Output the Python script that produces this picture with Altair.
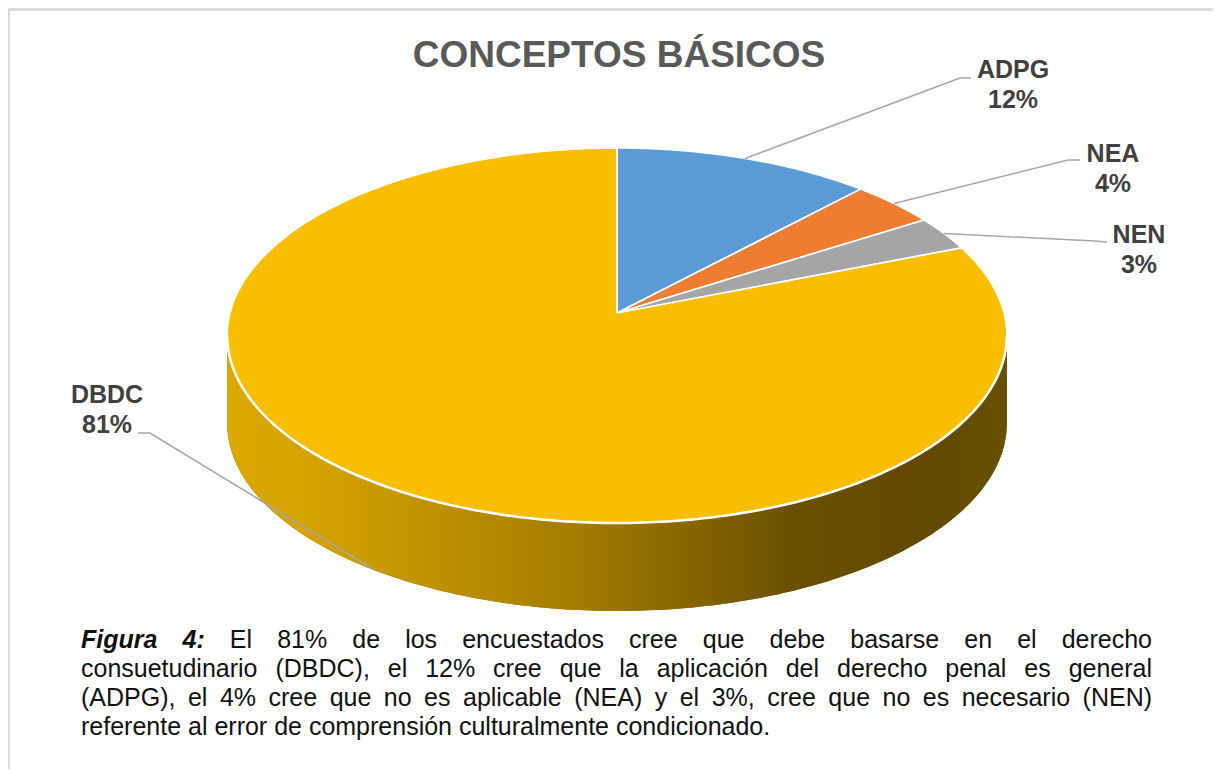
import math
import altair as alt
import pandas as pd

# ---------------- data ----------------
categories = ["ADPG", "NEA", "NEN", "DBDC"]
values = [12, 4, 3, 81]
colors = ["#5B9BD5", "#ED7D31", "#A5A5A5", "#FABD00"]

title_text = "CONCEPTOS BÁSICOS"
caption_bold = ["Figura", "4:"]
caption_lines = [
    "Figura 4: El 81% de los encuestados cree que debe basarse en el derecho",
    "consuetudinario (DBDC), el 12% cree que la aplicación del derecho penal es general",
    "(ADPG), el 4% cree que no es aplicable (NEA) y el 3%, cree que no es necesario (NEN)",
    "referente al error de comprensión culturalmente condicionado.",
]

# ---------------- layout ----------------
W, H = 1205, 761          # chart drawn from page (8, 8)
X0, Y0 = 8, 8
CX, CY = 617, 313         # projected pie centre (page px)
SX, SY = 387, 184.8       # perspective radii
E = 0.12                  # perspective factor
DEPTH = 88                # thickness of the 3D side
N = 120                   # arc resolution
M = 200                   # side resolution

xs = alt.Scale(domain=[X0, X0 + W], range=[0, W], nice=False, zero=False)
ys = alt.Scale(domain=[Y0, Y0 + H], range=[0, H], nice=False, zero=False)
X = lambda f: alt.X(f, type="quantitative", scale=xs, axis=None)
Y = lambda f: alt.Y(f, type="quantitative", scale=ys, axis=None)

col_scale = alt.Scale(domain=categories, range=colors)

slices = pd.DataFrame({"cat": categories, "value": values, "idx": list(range(len(categories)))})

U = "sin(datum.phi)/(1+%g*cos(datum.phi))" % E
V = "cos(datum.phi)/(1+%g*cos(datum.phi))" % E
A0 = math.acos(-E)  # silhouette angle of the projected rim

# ---------------- 3D side wall (front part of the DBDC slice) ----------------
side_base = (
    alt.Chart(slices)
    .transform_filter("datum.cat == 'DBDC'")
    .transform_calculate(pts="sequence(0, %d)" % (2 * M + 2))
    .transform_flatten(["pts"])
    .transform_calculate(
        j="datum.pts <= %d ? datum.pts : %d - datum.pts" % (M, 2 * M + 1),
        low="datum.pts > %d ? 1 : 0" % M,
    )
    .transform_calculate(phi="%.6f + %.6f*datum.j/%d" % (A0, 2 * math.pi - 2 * A0, M))
    .transform_calculate(
        px="%g + %g*(%s)" % (CX, SX, U),
        py="%g - %g*(%s) + datum.low*%g" % (CY, SY, V, DEPTH),
    )
)
side_under = side_base.mark_line(filled=True, fill="#A07A00", stroke=None).encode(
    x=X("px"), y=Y("py"), order=alt.Order("pts:Q")
)
side = side_base.mark_line(
    filled=True,
    stroke=None,
    fill=alt.Gradient(
        gradient="linear",
        stops=[
            alt.GradientStop(color="#DAA800", offset=0),
            alt.GradientStop(color="#D3A200", offset=0.12),
            alt.GradientStop(color="#A47C00", offset=0.45),
            alt.GradientStop(color="#6B5000", offset=0.72),
            alt.GradientStop(color="#624900", offset=0.9),
            alt.GradientStop(color="#665000", offset=1),
        ],
        x1=0, x2=1, y1=0, y2=0,
    ),
).encode(x=X("px"), y=Y("py"), order=alt.Order("pts:Q"))

rim = side_base.transform_filter("datum.low == 0").mark_line(color="white", strokeWidth=2.5).encode(
    x=X("px"), y=Y("py"), order=alt.Order("pts:Q")
)

# ---------------- top face slices ----------------
pie = (
    alt.Chart(slices)
    .transform_joinaggregate(total="sum(value)")
    .transform_window(cum="sum(value)", sort=[alt.SortField("idx")], frame=[None, 0])
    .transform_calculate(
        f0="(datum.cum - datum.value)/datum.total",
        f1="datum.cum/datum.total",
        pts="sequence(0, %d)" % (N + 3),
    )
    .transform_flatten(["pts"])
    .transform_calculate(
        phi="2*PI*(datum.f0 + (datum.f1-datum.f0)*clamp(datum.pts-1, 0, %d)/%d)" % (N, N),
        isv="datum.pts == 0 || datum.pts == %d" % (N + 2),
    )
    .transform_calculate(
        px="%g + (datum.isv ? 0 : %g*(%s))" % (CX, SX, U),
        py="%g - (datum.isv ? 0 : %g*(%s))" % (CY, SY, V),
    )
    .mark_line(filled=True, stroke="white", strokeWidth=1.6, strokeJoin="round")
    .encode(
        x=X("px"), y=Y("py"),
        color=alt.Color("cat:N", scale=col_scale, legend=None),
        order=alt.Order("pts:Q"),
        detail="cat:N",
    )
)

# ---------------- labels & leader lines ----------------
label_pos = {  # centre x, first-line baseline
    "ADPG": (1013, 78),
    "NEA": (1113, 162),
    "NEN": (1139, 243),
    "DBDC": (107, 403),
}
leader_tail = {
    "ADPG": [(960, 78), (971, 78)],
    "NEA": [(1068, 160), (1080, 160)],
    "NEN": [(1095, 241), (1107, 242)],
    "DBDC": [(150, 433), (138, 433)],
}

total = sum(values)
rows, lab_rows = [], []
cum = 0
for c, v in zip(categories, values):
    mid = (cum + v / 2) / total * 2 * math.pi
    cum += v
    d = 1 + E * math.cos(mid)
    ax = CX + SX * math.sin(mid) / d
    vv = math.cos(mid) / d
    ay = CY - SY * vv + (DEPTH if vv < -0.3 else 0)
    pts = [(ax, ay)] + leader_tail[c]
    for i, (px, py) in enumerate(pts):
        rows.append({"cat": c, "i": i, "px": px, "py": py})
    lx, ly = label_pos[c]
    lab_rows.append({"t": c, "px": lx, "py": ly})
    lab_rows.append({"t": "%d%%" % v, "px": lx, "py": ly + 30})
leaders_df = pd.DataFrame(rows)
labels_df = pd.DataFrame(lab_rows)

leaders = alt.Chart(leaders_df).mark_line(color="#A6A6A6", strokeWidth=1.5).encode(
    x=X("px"), y=Y("py"), detail="cat:N", order=alt.Order("i:Q")
)
labels = alt.Chart(labels_df).mark_text(
    font="Liberation Sans", fontSize=25, fontWeight="bold", color="#404040",
    align="center", baseline="alphabetic",
).encode(x=X("px"), y=Y("py"), text="t:N")

# ---------------- title ----------------
title = alt.Chart(pd.DataFrame({"t": [title_text], "px": [619], "py": [67]})).mark_text(
    font="Liberation Sans", fontSize=37, fontWeight="bold", color="#595959",
    align="center", baseline="alphabetic",
).encode(x=X("px"), y=Y("py"), text="t:N")

# ---------------- caption (justified) ----------------
AR = {" ": 278, "(": 333, ")": 333, ",": 278, ".": 278, ":": 278, "%": 889}
for ch in "0123456789":
    AR[ch] = 556
AR.update(dict(a=556, b=556, c=500, d=556, e=556, f=278, g=556, h=556, i=222, j=222, k=500,
               l=222, m=833, n=556, o=556, p=556, q=556, r=333, s=500, t=278, u=556, v=500,
               w=722, x=500, y=500, z=500))
AR.update({"á": 556, "é": 556, "í": 278, "ó": 556, "ú": 556, "ñ": 556, "A": 667, "B": 667,
           "C": 722, "D": 722, "E": 667, "F": 611, "G": 778, "N": 722, "P": 667, "S": 667})
BI = {"F": 611, "i": 278, "g": 611, "u": 611, "r": 389, "a": 556, "4": 556, ":": 333, " ": 278}

FS = 25
CAP_X0, CAP_X1 = 81, 1152
CAP_BASE, CAP_LH = 648, 29


def wwidth(word, bold):
    tab = BI if bold else AR
    return sum(tab.get(ch, 556) for ch in word) * FS / 1000.0


cap_rows = []
for li, line in enumerate(caption_lines):
    words = line.split(" ")
    bolds = [li == 0 and wi < len(caption_bold) and w == caption_bold[wi] for wi, w in enumerate(words)]
    widths = [wwidth(w, b) for w, b in zip(words, bolds)]
    if li < len(caption_lines) - 1:
        gap = (CAP_X1 - CAP_X0 - sum(widths)) / (len(words) - 1)
    else:
        gap = AR[" "] * FS / 1000.0
    x = CAP_X0
    for w, b, wd in zip(words, bolds, widths):
        cap_rows.append({"t": w, "px": x, "py": CAP_BASE + li * CAP_LH, "bold": b})
        x += wd + gap
cap_df = pd.DataFrame(cap_rows)

cap_regular = alt.Chart(cap_df).transform_filter("!datum.bold").mark_text(
    font="Liberation Sans", fontSize=FS, color="#111111", align="left", baseline="alphabetic",
).encode(x=X("px"), y=Y("py"), text="t:N")
cap_boldit = alt.Chart(cap_df).transform_filter("datum.bold").mark_text(
    font="Liberation Sans", fontSize=FS, fontWeight="bold", fontStyle="italic",
    color="#111111", align="left", baseline="alphabetic",
).encode(x=X("px"), y=Y("py"), text="t:N")

# ---------------- frame ----------------
frame_top = alt.Chart(pd.DataFrame({"a": [0]})).mark_rule(color="#D9D9D9", strokeWidth=2).encode(
    x=alt.value(0), x2=alt.value(W), y=alt.value(2)
)
frame_left = alt.Chart(pd.DataFrame({"a": [0]})).mark_rule(color="#D9D9D9", strokeWidth=2).encode(
    x=alt.value(1), y=alt.value(2), y2=alt.value(H)
)

chart = (
    alt.layer(frame_top, frame_left, side_under, side, pie, rim, leaders, labels, title,
              cap_regular, cap_boldit)
    .properties(width=W, height=H, padding=0, autosize=alt.AutoSizeParams(type="none"))
    .configure_view(stroke=None)
    .configure(background="white")
)

chart.save("out.html", embed_options={"renderer": "svg", "actions": False})
